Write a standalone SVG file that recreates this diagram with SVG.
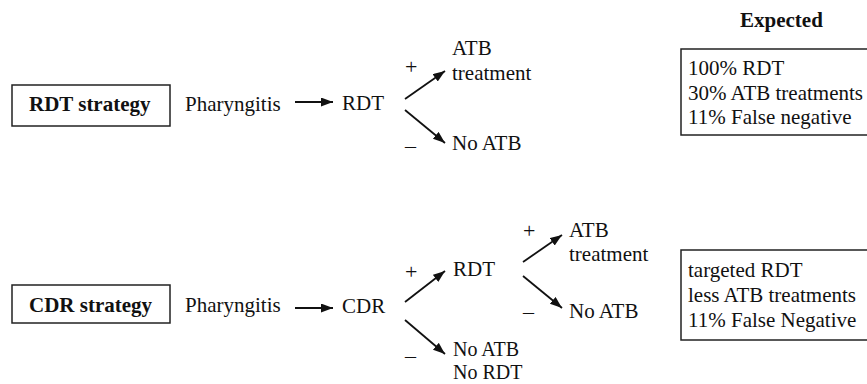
<svg xmlns="http://www.w3.org/2000/svg" width="867" height="384" viewBox="0 0 867 384">
<style>
text{font-family:"Liberation Serif",Tinos,"Times New Roman",serif;font-size:21px;fill:#111}
.b{font-weight:bold}
.box{fill:#fff;stroke:#222;stroke-width:1.5}
.c line{stroke:#111;stroke-width:1.8;marker-end:url(#ah)}
.sign{font-size:22px}
.sm{font-size:20px}
</style>
<defs>
<marker id="ah" markerUnits="userSpaceOnUse" markerWidth="13" markerHeight="10" refX="12" refY="4.5" orient="auto">
<path d="M0,0 L12,4.5 L0,9 z" fill="#111"/>
</marker>
</defs>
<rect width="867" height="384" fill="#fff"/>

<g id="rdt-strategy"><rect class="box" x="12" y="85" width="158" height="41"/><text class="b" x="29" y="111">RDT strategy</text></g>
<g id="pharyngitis1"><text x="185" y="111">Pharyngitis</text></g>
<g id="rdt1"><text x="342" y="110">RDT</text></g>
<g id="atb-treatment1"><text x="452" y="55">ATB</text><text x="452" y="80">treatment</text></g>
<g id="no-atb1"><text x="452" y="150">No ATB</text></g>
<g id="expected-title"><text class="b" x="740" y="27">Expected</text></g>
<g id="expected1"><rect class="box" x="681" y="49" width="195" height="86"/><text x="688" y="75">100% RDT</text><text x="688" y="100">30% ATB treatments</text><text x="688" y="124">11% False negative</text></g>

<g id="cdr-strategy"><rect class="box" x="12" y="285" width="158" height="38"/><text class="b" x="29" y="312">CDR strategy</text></g>
<g id="pharyngitis2"><text x="185" y="312">Pharyngitis</text></g>
<g id="cdr"><text x="342" y="313">CDR</text></g>
<g id="rdt2"><text x="453" y="276">RDT</text></g>
<g id="no-atb-no-rdt"><text class="sm" x="453" y="356">No ATB</text><text class="sm" x="453" y="379">No RDT</text></g>
<g id="atb-treatment2"><text x="569" y="237">ATB</text><text x="569" y="261">treatment</text></g>
<g id="no-atb2"><text x="569" y="318">No ATB</text></g>
<g id="expected2"><rect class="box" x="681" y="250" width="195" height="90"/><text x="688" y="277">targeted RDT</text><text x="688" y="302">less ATB treatments</text><text x="688" y="327">11% False Negative</text></g>

<g id="connectors" class="c">
<line x1="295" y1="102" x2="333" y2="102"/>
<line x1="405" y1="99" x2="445" y2="71"/>
<line x1="405" y1="110" x2="445" y2="143"/>
<line x1="295" y1="308" x2="333" y2="308"/>
<line x1="405" y1="302" x2="445" y2="271"/>
<line x1="405" y1="320" x2="445" y2="354"/>
<line x1="523" y1="262" x2="562" y2="235"/>
<line x1="523" y1="276" x2="562" y2="308"/>
</g>
<g id="signs">
<text class="sign" x="405" y="74">+</text>
<text class="sign" x="405" y="153">–</text>
<text class="sign" x="405" y="279">+</text>
<text class="sign" x="405" y="363">–</text>
<text class="sign" x="523" y="238">+</text>
<text class="sign" x="523" y="319">–</text>
</g>
</svg>
